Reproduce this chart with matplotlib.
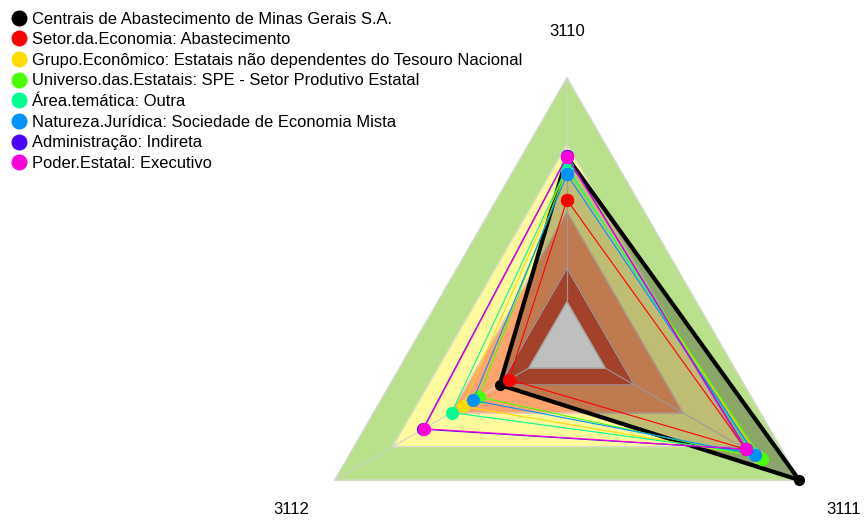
import numpy as np
import matplotlib
matplotlib.use("Agg")
import matplotlib.pyplot as plt
from matplotlib.lines import Line2D

plt.rcParams['font.family'] = ['Liberation Sans', 'DejaVu Sans']

# eixos do radar (sentido: topo, direita-baixo, esquerda-baixo)
eixos = ["3110", "3111", "3112"]
angulos = np.radians([90, -30, 210])

series = [
    "Centrais de Abastecimento de Minas Gerais S.A.",
    "Setor.da.Economia: Abastecimento",
    "Grupo.Econômico: Estatais não dependentes do Tesouro Nacional",
    "Universo.das.Estatais: SPE - Setor Produtivo Estatal",
    "Área.temática: Outra",
    "Natureza.Jurídica: Sociedade de Economia Mista",
    "Administração: Indireta",
    "Poder.Estatal: Executivo",
]
cores = ["#000000", "#FF0000", "#FFDB00", "#49FF00",
         "#00FF92", "#0092FF", "#4900FF", "#FF00DB"]

# valores por eixo [3110, 3111, 3112]
valores = [
    [0.705, 1.000, 0.290],
    [0.545, 0.770, 0.250],
    [0.665, 0.825, 0.450],
    [0.660, 0.840, 0.380],
    [0.668, 0.800, 0.497],
    [0.640, 0.810, 0.405],
    [0.708, 0.772, 0.621],
    [0.705, 0.770, 0.617],
]

# faixas de fundo (de fora para dentro)
faixas = [1.00, 0.75, 0.50, 0.29, 0.164]
cores_faixas = ["#B9E08B", "#FFFB9C", "#FFA46C", "#DC583A", "#FFFFFF"]


def xy(r):
    r = np.asarray(r, dtype=float)
    x = r * np.cos(angulos)
    y = r * np.sin(angulos)
    return np.append(x, x[0]), np.append(y, y[0])


fig = plt.figure(figsize=(8.66, 5.21), dpi=100)
ax = fig.add_axes([0, 0, 1, 1])
R = 268.0
ax.set_xlim(-567 / R, (866 - 567) / R)
ax.set_ylim(-(521 - 346) / R, 346 / R)
ax.axis('off')

for nivel, cor in zip(faixas, cores_faixas):
    fx, fy = xy([nivel] * 3)
    ax.fill(fx, fy, color=cor, zorder=1)
    ax.plot(fx, fy, color="#D8D8D8", lw=0.8, zorder=2)

r0 = faixas[-1]
for a in angulos:
    ax.plot([r0 * np.cos(a), np.cos(a)], [r0 * np.sin(a), np.sin(a)],
            color="#CFCFCF", lw=0.8, zorder=2)

for i, (nome, cor, v) in enumerate(zip(series, cores, valores)):
    px, py = xy(v)
    if i == 0:
        ax.fill(px, py, color="black", alpha=0.25, lw=0, zorder=3)
        ax.plot(px, py, color=cor, lw=3.0, marker="o", ms=7, zorder=4 + i)
    else:
        ax.plot(px, py, color=cor, lw=0.8, marker="o", ms=8.5, zorder=4 + i)

for nome, a in zip(eixos, angulos):
    ax.text(1.19 * np.cos(a), 1.19 * np.sin(a) - 0.015, nome, fontsize=12,
            ha="center", va="center")

handles = [Line2D([], [], ls="none", marker="o", ms=10.5, color=c) for c in cores]
fig.legend(handles, series, loc="upper left", bbox_to_anchor=(0.0, 1.0),
           frameon=False, fontsize=11.9, handlelength=0.9, handletextpad=0.35,
           labelspacing=0.34, borderaxespad=0.3)

fig.savefig("out.png", dpi=100)
